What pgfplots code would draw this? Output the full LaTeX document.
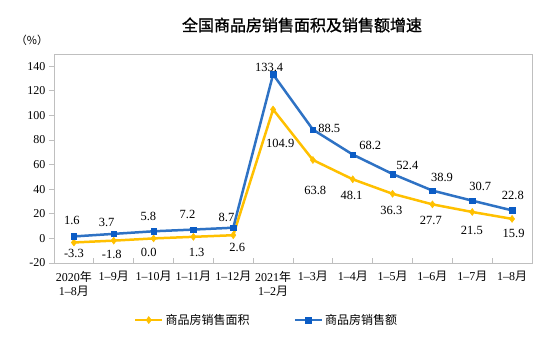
\documentclass[border=0pt]{standalone}
\usepackage{pgfplots}
\pgfplotsset{compat=1.18}
\usepackage{pgfplotstable}
\usepackage{fontspec}
\setmainfont{Liberation Serif}
\newfontfamily\cjk{Noto Sans CJK SC}
\newfontfamily\cjkt[FakeBold=1.2]{Noto Sans CJK SC}
\definecolor{cblue}{HTML}{2E72C4}
\definecolor{cbluem}{HTML}{0B5CC5}
\definecolor{cyel}{HTML}{FFC000}
\definecolor{cframe}{HTML}{BFBFBF}

\pgfplotstableread{
x y
0 -3.3
1 -1.8
2 0.0
3 1.3
4 2.6
5 104.9
6 63.8
7 48.1
8 36.3
9 27.7
10 21.5
11 15.9
}\area
\pgfplotstableread{
x y
0 1.6
1 3.7
2 5.8
3 7.2
4 8.7
5 133.4
6 88.5
7 68.2
8 52.4
9 38.9
10 30.7
11 22.8
}\amount
\pgfplotstableread{
x y t
-0.05 15.0 1.6
0.82 13.2 3.7
1.87 17.5 5.8
2.85 19.1 7.2
3.83 16.9 8.7
4.90 139.0 133.4
6.41 89.4 88.5
7.44 75.8 68.2
8.37 59.6 52.4
9.24 49.7 38.9
10.20 41.9 30.7
11.02 35.2 22.8
}\amountlab
\pgfplotstableread{
x y t
0.00 -12.5 -3.3
0.95 -12.9 -1.8
1.88 -11.0 0.0
3.08 -11.3 1.3
4.10 -7.2 2.6
5.18 77.2 104.9
6.06 39.2 63.8
6.97 34.9 48.1
7.97 23.0 36.3
8.96 14.9 27.7
9.99 6.7 21.5
11.04 4.1 15.9
}\arealab

\begin{document}
\begin{tikzpicture}
\useasboundingbox (0pt,0pt) rectangle (554pt,338pt);
\node[font=\cjkt\fontsize{16}{18}\selectfont] at (302pt,313pt) {全国商品房销售面积及销售额增速};
\node[font=\cjk\fontsize{11}{13}\selectfont] at (32pt,298pt) {（\%）};
\begin{axis}[
  at={(54pt,75pt)}, anchor=south west,
  scale only axis, width=478pt, height=209pt,
  xmin=-0.5, xmax=11.5, ymin=-20, ymax=150,
  ytick={-20,0,20,40,60,80,100,120,140},
  xtick={0,...,11},
  minor xtick={0.5,1.5,...,10.5},
  xticklabels={
    {2020{\cjk 年}\\1–8{\cjk 月}},
    {1–9{\cjk 月}},
    {1–10{\cjk 月}},
    {1–11{\cjk 月}},
    {1–12{\cjk 月}},
    {2021{\cjk 年}\\1–2{\cjk 月}},
    {1–3{\cjk 月}},
    {1–4{\cjk 月}},
    {1–5{\cjk 月}},
    {1–6{\cjk 月}},
    {1–7{\cjk 月}},
    {1–8{\cjk 月}}},
  xticklabel style={align=center, font=\fontsize{12}{14}\selectfont},
  yticklabel style={font=\fontsize{12}{14}\selectfont},
  /pgf/number format/assume math mode=true,
  tick pos=left,
  tick align=outside,
  major x tick style={draw=none},
  minor tick length=5pt,
  minor x tick style={cframe, line width=0.8pt, yshift=5pt},
  major tick length=5pt,
  ytick style={cframe, line width=0.8pt},
  axis line style={cframe, line width=0.8pt},
  legend style={at={(0.4446,-0.273)}, anchor=center, draw=none, fill=none,
    legend columns=2, font=\cjk\fontsize{12}{14}\selectfont,
    /tikz/every even column/.append style={column sep=42pt}},
  legend image code/.code={\draw[mark repeat=2,mark phase=2,#1] plot coordinates {(0pt,0pt)(13.5pt,0pt)(27pt,0pt)};},
  clip=false,
]
\addplot[cyel, line width=2.5pt, mark=diamond*, mark size=3.5pt,
  mark options={fill=cyel, draw=cyel, line width=0.5pt}] table {\area};
\addlegendentry{商品房销售面积}
\addplot[cblue, line width=2.5pt, mark=square*, mark size=2.8pt,
  mark options={fill=cbluem, draw=cbluem, line width=0.5pt}] table {\amount};
\addlegendentry{商品房销售额}
\addplot[forget plot, draw=none, mark=none, nodes near coords, point meta=explicit symbolic,
  nodes near coords style={anchor=center, inner sep=0pt, black, font=\fontsize{12.5}{14}\selectfont}]
  table[meta=t] {\amountlab};
\addplot[forget plot, draw=none, mark=none, nodes near coords, point meta=explicit symbolic,
  nodes near coords style={anchor=center, inner sep=0pt, black, font=\fontsize{12.5}{14}\selectfont}]
  table[meta=t] {\arealab};
\end{axis}
\end{tikzpicture}
\end{document}
